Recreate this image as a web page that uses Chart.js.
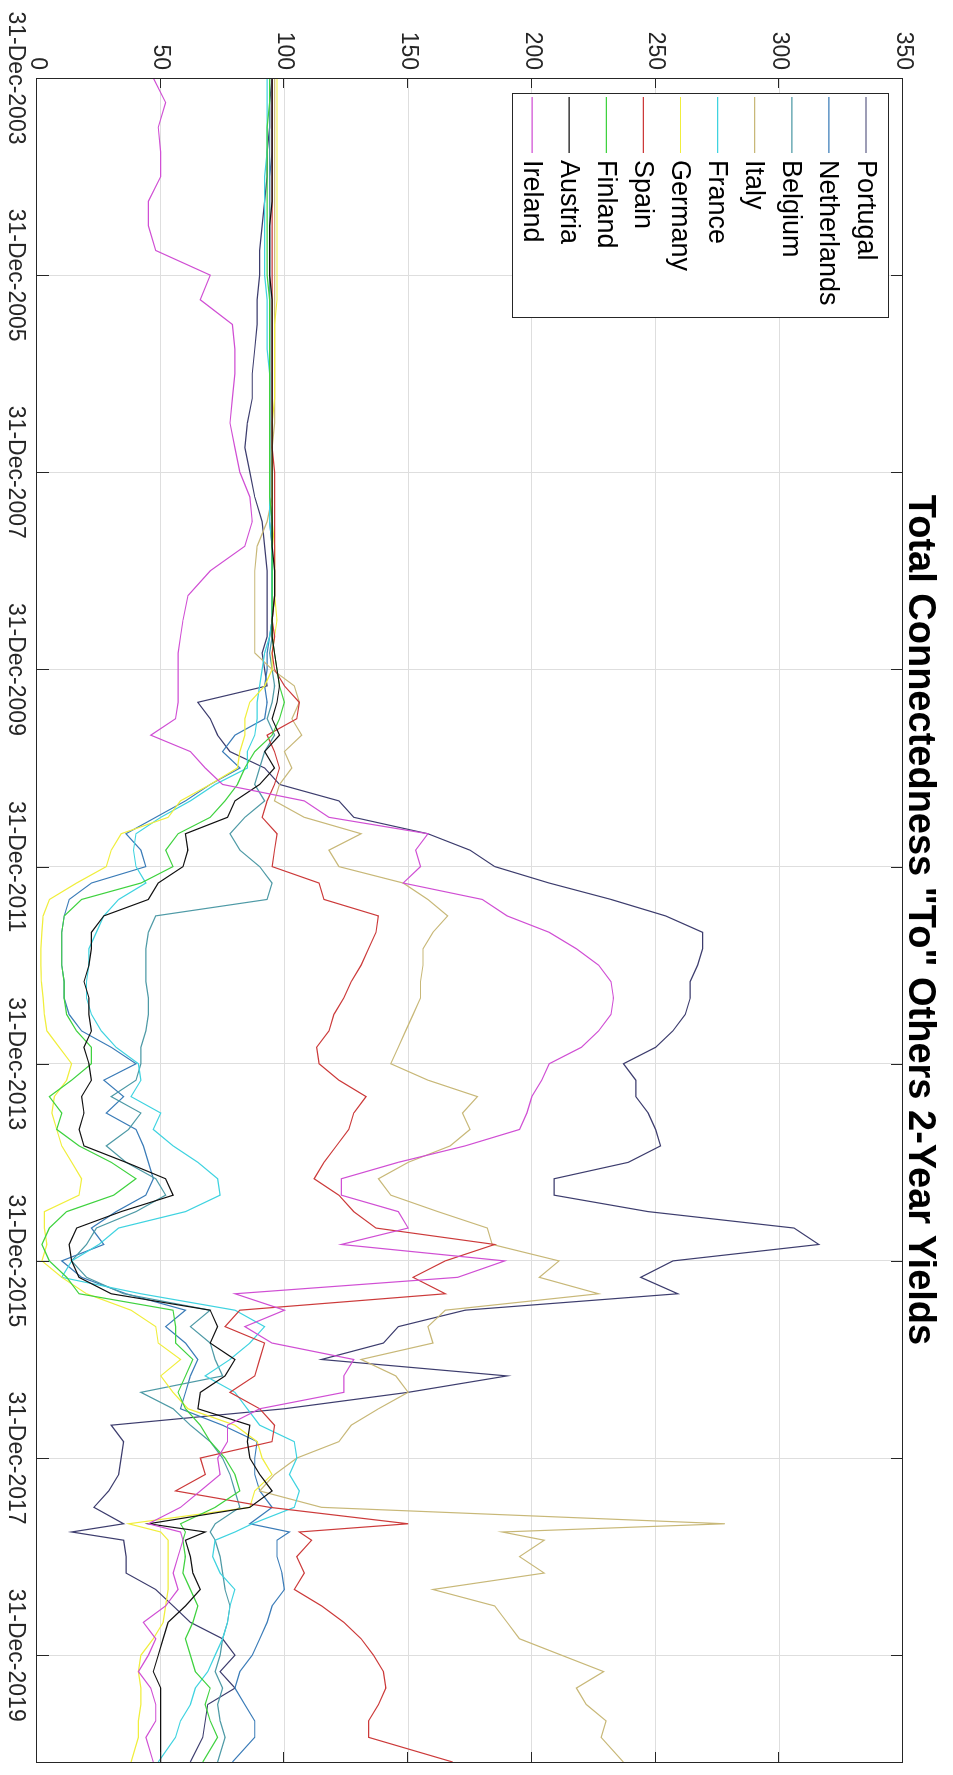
<!DOCTYPE html>
<html>
<head>
<meta charset="utf-8">
<script src="https://cdn.jsdelivr.net/npm/chart.js@4.4.1/dist/chart.umd.min.js"></script>
<style>
  html, body { margin: 0; padding: 0; background: #fff; overflow: hidden; }
  /* chart is drawn landscape and turned a quarter clockwise, like the source figure */
  #wrap { position: absolute; left: 0; top: 0; width: 1775px; height: 953px;
          transform-origin: 0 0; transform: translate(953px, 0) rotate(90deg); }
</style>
</head>
<body>
<div id="wrap"><canvas id="chart" width="1775" height="953" style="width:1775px;height:953px"></canvas></div>
<script>
// months since 31-Dec-2003
const months = [0,3,6,9,12,15,18,21,24,27,30,33,36,39,42,45,48,51,54,57,60,63,
  66,68,70,72,74,76,78,80,82,
  84,86,88,90,92,94,
  96,98,100,102,104,106,
  108,110,112,114,116,118,
  120,122,124,126,128,130,
  132,134,136,138,140,142,
  144,146,148,150,152,154,
  156,158,160,162,164,166,
  168,170,172,174,176,
  177,
  178,
  180,182,184,186,188,190,
  192,194,196,198,200,202,
  205];

const tickMonths = [0, 24, 48, 72, 96, 120, 144, 168, 192];
const tickValues = [0, 50, 100, 150, 200, 250, 300, 350];

const countries = ['Portugal','Netherlands','Belgium','Italy','France','Germany','Spain','Finland','Austria','Ireland'];
const colors = ['#3d3d6e','#3b7cb8','#4e9aa6','#c8b878','#3fd3e0','#f0ee3c','#cc3a3a','#3fd23f','#111111','#d04fd4'];

const portugal = [95,94,94,93,93,92,91,90,90,89,89,88,87,87,85,84,86,88,91,92,93,93,
  93,93,91,92,93,65,70,73,78,
  92,98,122,128,158,175,
  185,207,232,254,269,269,
  267,264,264,262,257,250,
  237,242,242,247,250,252,
  239,209,209,247,306,316,
  257,244,259,173,146,140,
  115,190,150,100,30,35,
  34,33,29,23,35,
  14,
  35,
  36,36,48,55,62,75,
  80,74,80,69,68,67,
  62];

const netherlands = [95,95,95,95,94,94,94,94,94,94,94,94,94,94,94,94,94,94,94,95,95,95,
  95,94,93,93,92,93,92,80,75,
  82,70,60,48,36,42,
  44,22,13,11,10,10,
  10,11,11,13,18,30,
  40,27,35,28,40,43,
  45,47,44,32,22,27,
  10,18,36,60,52,60,
  65,62,60,58,75,89,
  88,88,90,95,86,
  102,
  97,
  97,99,100,95,93,90,
  87,82,80,84,88,88,
  79];

const belgium = [94,94,94,94,94,94,94,94,94,94,94,94,94,94,94,94,94,94,95,95,95,95,
  95,95,94,95,96,95,93,96,92,
  90,88,92,84,78,82,
  90,95,93,48,45,44,
  44,44,45,45,44,42,
  42,40,30,42,37,28,
  36,48,52,40,24,20,
  14,20,35,70,62,70,
  72,75,42,55,62,70,
  75,78,80,82,72,
  70,
  72,
  74,75,76,78,77,75,
  74,72,75,73,74,76,
  73];

const italy = [96,96,96,96,96,96,96,96,96,96,96,96,96,96,96,95,95,95,93,89,88,88,
  88,88,88,95,104,106,103,107,100,
  103,98,96,108,131,118,
  122,148,158,166,160,156,
  156,155,155,152,149,146,
  143,158,178,172,175,167,
  150,138,143,162,182,184,
  211,203,227,165,158,160,
  131,145,150,138,127,122,
  105,96,90,115,278,
  188,
  205,
  195,205,160,185,190,195,
  212,229,218,222,230,228,
  237];

const france = [93,93,93,93,92,92,92,92,92,93,93,93,94,94,94,94,94,94,94,95,95,95,
  95,94,92,91,90,89,89,88,85,
  85,72,62,50,40,39,
  40,44,33,27,24,21,
  21,20,20,22,26,32,
  41,42,38,50,47,55,
  65,73,74,60,33,25,
  14,10,42,80,92,86,
  78,68,80,85,90,104,
  105,102,106,104,87,
  80,
  72,
  71,74,80,78,77,75,
  72,69,64,62,58,56,
  49];

const germany = [97,97,97,97,97,97,97,97,97,97,96,96,96,96,95,95,95,95,95,96,96,96,
  97,96,95,95,92,86,84,84,82,
  81,70,58,53,34,30,
  28,16,5,2.5,2,1.6,
  1.6,1.8,2.5,3,4,9,
  14,12,7,6,8,10,
  14,18,17,3,3,4,
  2,10,20,38,48,49,
  58,50,55,61,80,89,
  91,95,88,86,37,
  50,
  53,
  53,53,53,52,51,47,
  42,41,42,42,41,41,
  38];

const spain = [95,95,95,95,95,95,95,95,95,95,95,95,95,95,95,95,96,96,96,96,96,96,
  95,96,95,96,100,106,105,93,96,
  98,96,93,91,97,96,
  95,114,116,138,137,134,
  131,127,124,120,118,113,
  114,122,133,128,126,121,
  116,112,122,128,137,185,
  165,152,165,82,76,92,
  90,88,78,90,96,95,
  66,68,56,94,150,
  106,
  111,
  105,108,104,115,124,131,
  136,140,141,138,134,134,
  168];

const finland = [94,94,93,93,93,93,93,93,93,94,94,94,94,94,94,94,94,94,95,95,95,95,
  95,95,96,97,98,100,98,95,88,
  84,81,76,70,57,52,
  55,42,18,11,10,10,
  10,11,11,12,16,22,
  22,14,5,10,8,17,
  30,40,31,12,5,2,
  5,12,17,55,56,56,
  63,60,57,60,66,70,
  76,80,82,72,58,
  60,
  59,
  60,59,62,65,63,60,
  62,64,70,68,70,73,
  67];

const austria = [95,95,95,95,95,95,94,94,94,95,95,95,95,95,95,95,95,95,95,95,96,96,
  95,95,96,97,98,97,95,98,92,
  96,90,80,77,60,61,
  59,49,45,27,22,22,
  21,19,21,21,22,19,
  21,22,18,19,17,19,
  36,52,55,34,16,13,
  14,17,30,70,73,70,
  80,76,66,65,86,85,
  86,90,95,86,45,
  68,
  60,
  62,63,66,60,53,51,
  49,47,50,50,50,50,
  50];

const ireland = [47,52,49,50,50,45,45,48,70,66,79,80,80,79,78,80,82,86,87,84,70,61,
  59,58,57,57,57,57,56,46,62,
  68,75,108,118,158,153,
  155,148,180,190,207,218,
  227,232,233,232,227,220,
  207,204,200,198,195,173,
  146,123,123,146,150,123,
  189,170,80,100,84,95,
  128,124,124,90,77,77,
  73,74,66,58,45,
  58,
  59,
  57,55,57,52,43,48,
  45,41,46,48,48,44,
  47];

const seriesValues = [portugal, netherlands, belgium, italy, france, germany, spain, finland, austria, ireland];

const FONT = '"Liberation Sans", Arial, Helvetica, sans-serif';
Chart.defaults.font.family = FONT;
Chart.defaults.color = '#262626';

// title, axes box with inward ticks, and the legend box inside the plot
const figureDecor = {
  id: 'figureDecor',
  afterDatasetsDraw(chart) {
    const { ctx, chartArea: a, scales: { x, y } } = chart;
    ctx.save();
    ctx.strokeStyle = '#262626';
    ctx.lineWidth = 1;
    ctx.beginPath();
    x.ticks.forEach(t => {
      const px = Math.round(x.getPixelForValue(t.value)) + 0.5;
      ctx.moveTo(px, a.bottom); ctx.lineTo(px, a.bottom - 12);
      ctx.moveTo(px, a.top); ctx.lineTo(px, a.top + 12);
    });
    y.ticks.forEach(t => {
      const py = Math.round(y.getPixelForValue(t.value)) + 0.5;
      ctx.moveTo(a.left, py); ctx.lineTo(a.left + 10, py);
      ctx.moveTo(a.right, py); ctx.lineTo(a.right - 10, py);
    });
    ctx.stroke();
    ctx.strokeRect(Math.round(a.left) + 0.5, Math.round(a.top) + 0.5,
                   Math.round(a.right - a.left), Math.round(a.bottom - a.top));

    // legend
    const bx = a.left + 15, by = a.top + 14, bw = 224, bh = 376;
    ctx.fillStyle = '#fff';
    ctx.fillRect(bx, by, bw, bh);
    ctx.strokeStyle = '#262626';
    ctx.strokeRect(bx + 0.5, by + 0.5, bw, bh);
    ctx.font = '27px ' + FONT;
    ctx.textBaseline = 'middle';
    ctx.textAlign = 'left';
    chart.data.datasets.forEach((ds, i) => {
      const ry = by + 23 + i * 37.1;
      ctx.strokeStyle = ds.borderColor;
      ctx.lineWidth = 1.2;
      ctx.beginPath();
      ctx.moveTo(bx + 4, ry); ctx.lineTo(bx + 60, ry);
      ctx.stroke();
      ctx.fillStyle = '#000';
      ctx.fillText(ds.label, bx + 67, ry + 1);
    });

    // title
    ctx.fillStyle = '#000';
    ctx.font = 'bold 38px ' + FONT;
    ctx.textAlign = 'center';
    ctx.textBaseline = 'alphabetic';
    ctx.fillText('Total Connectedness "To" Others 2-Year Yields', (a.left + a.right) / 2, 44);
    ctx.restore();
  }
};

new Chart(document.getElementById('chart'), {
  type: 'line',
  data: {
    datasets: countries.map((name, i) => ({
      label: name,
      data: months.map((m, j) => ({ x: m, y: seriesValues[i][j] })),
      borderColor: colors[i],
      backgroundColor: colors[i],
      borderWidth: 1.2,
      pointRadius: 0,
      fill: false,
      tension: 0,
      order: countries.length - 1 - i
    }))
  },
  options: {
    responsive: false,
    animation: false,
    devicePixelRatio: 1,
    layout: { padding: { top: 50, right: 13, left: 0, bottom: 0 } },
    plugins: { legend: { display: false }, title: { display: false }, tooltip: { enabled: false } },
    scales: {
      x: {
        type: 'linear',
        min: 0,
        max: 205,
        afterBuildTicks: s => { s.ticks = tickMonths.map(v => ({ value: v })); },
        afterFit: s => { s.height = 37; },
        grid: { color: '#dedede', drawTicks: false },
        border: { display: false },
        ticks: {
          autoSkip: false, maxRotation: 0, minRotation: 0, padding: 8,
          font: { size: 23 }, color: '#262626',
          callback: v => '31-Dec-' + (2003 + v / 12)
        }
      },
      y: {
        min: 0,
        max: 350,
        afterBuildTicks: s => { s.ticks = tickValues.map(v => ({ value: v })); },
        afterFit: s => { s.width = 78; },
        grid: { color: '#dedede', drawTicks: false },
        border: { display: false },
        ticks: { padding: 8, font: { size: 23 }, color: '#262626' }
      }
    }
  },
  plugins: [figureDecor]
});
</script>
</body>
</html>
